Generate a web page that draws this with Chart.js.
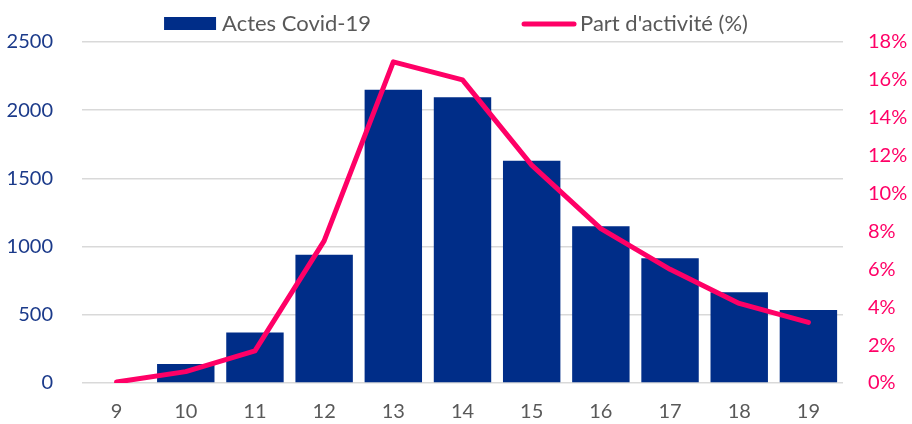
<!DOCTYPE html>
<html>
<head>
<meta charset="utf-8">
<script src="https://cdn.jsdelivr.net/npm/chart.js@4/dist/chart.umd.min.js"></script>
<style>
  html, body { margin: 0; padding: 0; background: #ffffff; }
  #wrap { width: 912px; height: 424px; position: relative; }
</style>
</head>
<body>
<div id="wrap"><canvas id="c" width="912" height="424"></canvas></div>
<script>
const categories = ['9', '10', '11', '12', '13', '14', '15', '16', '17', '18', '19'];
const actesCovid = [0, 140, 370, 940, 2150, 2095, 1630, 1150, 915, 665, 535];
const partActivite = [0.05, 0.6, 1.7, 7.5, 16.95, 16.0, 11.5, 8.15, 6.0, 4.2, 3.2];
const leftTicks = [0, 500, 1000, 1500, 2000, 2500];
const rightTicks = [0, 2, 4, 6, 8, 10, 12, 14, 16, 18];
const seriesLabels = ['Actes Covid-19', "Part d'activité (%)"];

const FONT = 'Lato, "Open Sans", sans-serif';
const BLUE = '#002D88';
const PINK = '#FF0066';

const topLegend = {
  id: 'topLegend',
  afterDraw(chart) {
    const ctx = chart.ctx;
    ctx.save();
    ctx.font = '22px ' + FONT;
    ctx.textBaseline = 'middle';
    ctx.textAlign = 'left';
    const ds = chart.data.datasets;
    const sym = 52, gapT = 6, gapItems = 151;
    const w = ds.map(d => sym + gapT + ctx.measureText(d.label).width);
    const total = w[0] + gapItems + w[1];
    let x = (chart.width - total) / 2;
    const yc = 24;
    ds.forEach((d, i) => {
      if (d.type === 'line') {
        ctx.strokeStyle = d.borderColor;
        ctx.lineWidth = 5;
        ctx.lineCap = 'round';
        ctx.beginPath();
        ctx.moveTo(x + 2, yc);
        ctx.lineTo(x + sym, yc);
        ctx.stroke();
      } else {
        ctx.fillStyle = d.backgroundColor;
        ctx.fillRect(x, yc - 7, sym, 13);
      }
      ctx.fillStyle = '#595959';
      ctx.fillText(d.label, x + sym + gapT, yc);
      x += w[i] + gapItems;
    });
    ctx.restore();
  }
};

new Chart(document.getElementById('c'), {
  data: {
    labels: categories,
    datasets: [
      {
        type: 'bar',
        label: seriesLabels[0],
        data: actesCovid,
        backgroundColor: BLUE,
        borderWidth: 0,
        yAxisID: 'y',
        order: 2,
        categoryPercentage: 1.0,
        barPercentage: 0.83
      },
      {
        type: 'line',
        label: seriesLabels[1],
        data: partActivite,
        borderColor: PINK,
        backgroundColor: PINK,
        borderWidth: 5,
        borderCapStyle: 'round',
        borderJoinStyle: 'round',
        pointRadius: 0,
        tension: 0,
        yAxisID: 'y1',
        order: 1
      }
    ]
  },
  options: {
    responsive: false,
    animation: false,
    devicePixelRatio: 1,
    layout: { padding: { top: 42, bottom: 0, left: 0, right: 0 } },
    plugins: {
      legend: { display: false },
      tooltip: { enabled: false }
    },
    scales: {
      x: {
        offset: true,
        grid: { display: false, drawTicks: false },
        border: { display: false },
        ticks: { color: '#595959', font: { family: FONT, size: 20 }, padding: 17, maxRotation: 0 },
        afterFit(s) { s.height = 41; }
      },
      y: {
        position: 'left',
        min: 0, max: 2500,
        afterBuildTicks(s) { s.ticks = leftTicks.map(v => ({ value: v })); },
        grid: { color: '#D9D9D9', lineWidth: 1.5, drawTicks: false },
        border: { display: false },
        ticks: { color: '#1B3A8A', font: { family: FONT, size: 20 }, padding: 29, callback: v => String(v) },
        afterFit(s) { s.width = 82; }
      },
      y1: {
        position: 'right',
        min: 0, max: 18,
        afterBuildTicks(s) { s.ticks = rightTicks.map(v => ({ value: v })); },
        grid: { display: false, drawTicks: false },
        border: { display: false },
        ticks: { color: PINK, font: { family: FONT, size: 20 }, padding: 25, callback: v => v + '%' },
        afterFit(s) { s.width = 69; }
      }
    }
  },
  plugins: [topLegend]
});
</script>
</body>
</html>
